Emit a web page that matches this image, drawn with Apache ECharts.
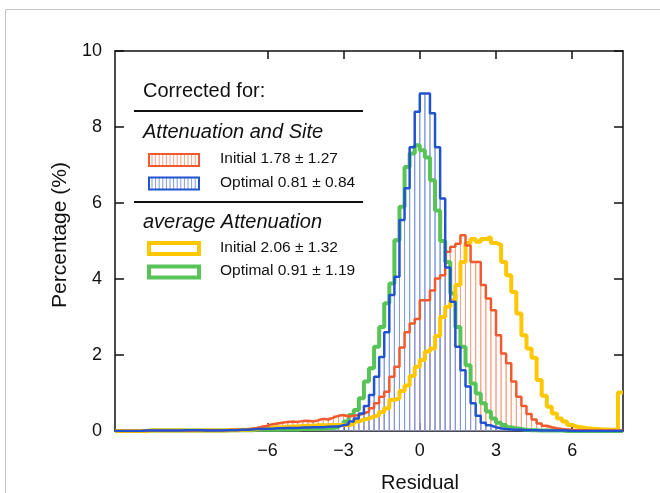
<!DOCTYPE html>
<html><head><meta charset="utf-8">
<script src="https://cdn.jsdelivr.net/npm/echarts@6/dist/echarts.min.js"></script>
<style>html,body{margin:0;padding:0;background:#fff}#c{width:660px;height:493px}</style>
</head><body><div id="c"></div>
<script>
// ---- data ----
const binStart = -12;
const binWidth = 0.2;
const xTickValues = [-6, -3, 0, 3, 6];
const yTickValues = [0, 2, 4, 6, 8, 10];
const xName = 'Residual';
const yName = 'Percentage (%)';

// Attenuation and Site, Initial (red, hatched)
const initialAS = [
  0,0,0,0,0,0,0.01,0.01,0.01,0.01,
  0.01,0.01,0.01,0.01,0.01,0.02,0.02,0.02,0.02,0.02,
  0.02,0.02,0.03,0.03,0.03,0.04,0.06,0.08,0.11,0.14,
  0.18,0.2,0.22,0.24,0.25,0.24,0.26,0.27,0.25,0.28,
  0.32,0.3,0.35,0.4,0.42,0.38,0.4,0.42,0.46,0.51,
  0.6,0.73,0.9,1.03,1.43,1.69,2.2,2.6,2.83,2.95,
  3.44,3.44,3.7,4.01,4.1,4.72,4.85,4.93,5.15,4.88,
  4.45,4.45,3.84,3.49,3.18,2.52,2.04,1.78,1.3,0.9,
  0.66,0.45,0.3,0.2,0.14,0.1,0.07,0.05,0.04,0.03,
  0.02,0.02,0.02,0.01,0.01,0.01,0.01,0.01,0.01,0.01
];
// Attenuation and Site, Optimal (blue, hatched)
const optimalAS = [
  0,0,0,0,0,0.01,0.01,0.01,0.01,0.01,
  0.01,0.01,0.01,0.02,0.02,0.02,0.02,0.01,0.01,0.01,
  0.01,0.02,0.02,0.02,0.03,0.03,0.04,0.05,0.05,0.06,
  0.06,0.07,0.07,0.08,0.08,0.08,0.09,0.09,0.1,0.1,
  0.1,0.11,0.12,0.12,0.15,0.18,0.25,0.33,0.46,0.66,
  0.95,1.43,1.95,2.6,3.58,4.06,5.55,6.39,7.47,8.4,
  8.88,8.88,8.36,7.47,6.12,4.3,3.4,2.22,1.6,1.17,
  0.73,0.4,0.22,0.15,0.1,0.07,0.05,0.04,0.03,0.03,
  0.02,0.02,0.02,0.01,0.01,0.01,0.01,0.01,0.01,0,
  0,0,0,0,0,0,0,0,0,0
];
// average Attenuation, Initial (yellow)
const initialAvg = [
  0,0,0,0,0,0,0.01,0.01,0.01,0.01,
  0.01,0.01,0.01,0.01,0.01,0.01,0.01,0.01,0.01,0.01,
  0.01,0.02,0.02,0.02,0.03,0.03,0.04,0.05,0.07,0.08,
  0.09,0.1,0.1,0.11,0.12,0.12,0.13,0.14,0.14,0.15,
  0.15,0.15,0.16,0.16,0.16,0.16,0.18,0.25,0.3,0.33,
  0.38,0.42,0.5,0.6,0.82,0.86,1.05,1.2,1.45,1.69,
  1.87,2.09,2.17,2.5,3.0,3.27,3.44,3.84,4.45,4.95,
  5.05,4.98,5.05,5.1,4.95,4.9,4.45,4.1,3.66,3.09,
  2.52,2.17,1.93,1.34,0.93,0.64,0.46,0.33,0.25,0.16,
  0.11,0.09,0.07,0.06,0.05,0.04,0.04,0.03,0.03,1.01
];
// average Attenuation, Optimal (green)
const optimalAvg = [
  0,0,0,0,0,0,0.01,0.01,0.01,0.01,
  0.01,0.01,0.01,0.01,0.01,0.01,0.01,0.01,0.01,0.01,
  0.01,0.01,0.02,0.02,0.02,0.02,0.02,0.03,0.03,0.03,
  0.03,0.03,0.04,0.04,0.04,0.04,0.05,0.05,0.05,0.06,
  0.06,0.07,0.08,0.1,0.16,0.25,0.42,0.55,0.86,1.3,
  1.65,2.22,2.74,3.36,3.88,5.02,5.9,6.95,7.3,7.52,
  7.39,7.2,6.6,5.8,5.0,4.45,3.62,2.74,2.22,1.73,
  1.25,0.99,0.73,0.51,0.33,0.22,0.16,0.1,0.07,0.05,
  0.03,0.02,0.02,0.01,0.01,0.01,0.01,0.01,0,0,
  0,0,0,0,0,0,0,0,0,0
];

const legendHeader = 'Corrected for:';
const groupNames = ['Attenuation and Site', 'average Attenuation'];
const seriesLabels = ['Initial 1.78 \u00b1 1.27', 'Optimal 0.81 \u00b1 0.84', 'Initial 2.06 \u00b1 1.32', 'Optimal 0.91 \u00b1 1.19'];

// ---- styles ----
const FONT = "'Liberation Sans', Arial, Helvetica, sans-serif";
const RED = '#f2592e', RED_H = '#f7a487';
const BLUE = '#2152cf', BLUE_H = '#7f9be0';
const YEL = '#ffc700', GRN = '#58c457';
const xMin = binStart, xMax = binStart + binWidth * initialAS.length;

function stepData(vals) {
  const d = vals.map((v, i) => [binStart + i * binWidth, v]);
  d.push([binStart + vals.length * binWidth, vals[vals.length - 1]]);
  return d;
}
function hatchSeries(vals, color) {
  return {
    type: 'custom', silent: true, clip: true,
    encode: { x: [0, 1], y: 2 },
    data: vals.map((v, i) => [binStart + i * binWidth, binStart + (i + 1) * binWidth, v]),
    renderItem: function (params, api) {
      if (api.value(2) <= 0) return null;
      const p0 = api.coord([api.value(0), 0]);
      const p1 = api.coord([api.value(1), api.value(2)]);
      return { type: 'rect', shape: { x: p0[0], y: p1[1], width: p1[0] - p0[0], height: p0[1] - p1[1] },
        style: { fill: null, stroke: color, lineWidth: 1 } };
    }
  };
}
function stepSeries(vals, color, w) {
  return { type: 'line', step: 'end', showSymbol: false, silent: true, clip: true,
    data: stepData(vals), lineStyle: { color: color, width: w }, itemStyle: { color: color } };
}

// ---- legend graphics ----
const g = [];
g.push({ type: 'rect', shape: { x: 5.5, y: 9.5, width: 700, height: 600 }, style: { fill: null, stroke: '#c4c4c4', lineWidth: 1 }, z: 0 });
g.push({ type: 'text', left: 143, top: 81, style: { text: legendHeader, font: '20px ' + FONT, fill: '#111' } });
g.push({ type: 'line', shape: { x1: 134, y1: 111, x2: 363, y2: 111 }, style: { stroke: '#111', lineWidth: 2 } });
g.push({ type: 'text', left: 143, top: 122, style: { text: groupNames[0], font: 'italic 20px ' + FONT, fill: '#111' } });
g.push({ type: 'line', shape: { x1: 134, y1: 202, x2: 363, y2: 202 }, style: { stroke: '#111', lineWidth: 2 } });
g.push({ type: 'text', left: 143, top: 212, style: { text: groupNames[1], font: 'italic 20px ' + FONT, fill: '#111' } });
const iconRows = [
  { y: 160, color: RED, hatch: RED_H, w: 2 },
  { y: 183.5, color: BLUE, hatch: BLUE_H, w: 2 },
  { y: 248.5, color: YEL, hatch: null, w: 4 },
  { y: 272, color: GRN, hatch: null, w: 4 }
];
iconRows.forEach((r, k) => {
  const h = r.w === 2 ? 12 : 11;
  if (r.hatch) {
    for (let x = 152; x < 198; x += 3.6) {
      g.push({ type: 'line', shape: { x1: x, y1: r.y - h / 2, x2: x, y2: r.y + h / 2 }, style: { stroke: r.hatch, lineWidth: 1 } });
    }
  }
  g.push({ type: 'rect', shape: { x: 149, y: r.y - h / 2, width: 50, height: h }, style: { fill: null, stroke: r.color, lineWidth: r.w } });
  g.push({ type: 'text', left: 220, top: r.y - 9, style: { text: seriesLabels[k], font: '15.5px ' + FONT, fill: '#111' } });
});

const axisLineStyle = { show: true, onZero: false, lineStyle: { color: '#111', width: 1.5 } };
const tickStyle = { color: '#111', width: 1.5 };
const axisCommon = {
  type: 'value', min: xMin, max: xMax, interval: 3,
  splitLine: { show: false },
  axisLine: axisLineStyle,
  axisTick: { show: true, inside: true, length: 8, lineStyle: tickStyle, customValues: xTickValues }
};

const option = {
  animation: false,
  backgroundColor: '#fff',
  grid: { left: 115, right: 37, top: 51, bottom: 62, containLabel: false, outerBoundsMode: 'none' },
  xAxis: [
    Object.assign({}, axisCommon, {
      position: 'bottom', name: xName, nameLocation: 'middle', nameGap: 42,
      nameTextStyle: { fontSize: 20, fontFamily: FONT, color: '#111', padding: [0, 0, 0, 102] },
      axisLabel: { customValues: xTickValues, fontSize: 18, fontFamily: FONT, color: '#111', margin: 11,
        formatter: v => (v < 0 ? '\u2212' + Math.abs(v) : String(v)) }
    }),
    Object.assign({}, axisCommon, { position: 'top', axisLabel: { show: false } })
  ],
  yAxis: [
    { type: 'value', min: 0, max: 10, interval: 2, position: 'left',
      name: yName, nameLocation: 'middle', nameGap: 44,
      nameTextStyle: { fontSize: 21, fontFamily: FONT, color: '#111', padding: [0, 0, 0, 12] },
      splitLine: { show: false },
      axisLine: axisLineStyle,
      axisTick: { show: true, inside: true, length: 9, lineStyle: tickStyle },
      axisLabel: { fontSize: 18, fontFamily: FONT, color: '#111', margin: 13, customValues: yTickValues } },
    { type: 'value', min: 0, max: 10, interval: 2, position: 'right',
      splitLine: { show: false },
      axisLine: axisLineStyle,
      axisTick: { show: true, inside: true, length: 9, lineStyle: tickStyle },
      axisLabel: { show: false } }
  ],
  graphic: g,
  series: [
    hatchSeries(initialAS, RED_H),
    hatchSeries(optimalAS, BLUE_H),
    stepSeries(optimalAvg, GRN, 4),
    stepSeries(initialAvg, YEL, 4),
    stepSeries(initialAS, RED, 2.5),
    stepSeries(optimalAS, BLUE, 2.5)
  ]
};
const chart = echarts.init(document.getElementById('c'), null, { renderer: 'canvas' });
chart.setOption(option);
</script>
</body></html>
